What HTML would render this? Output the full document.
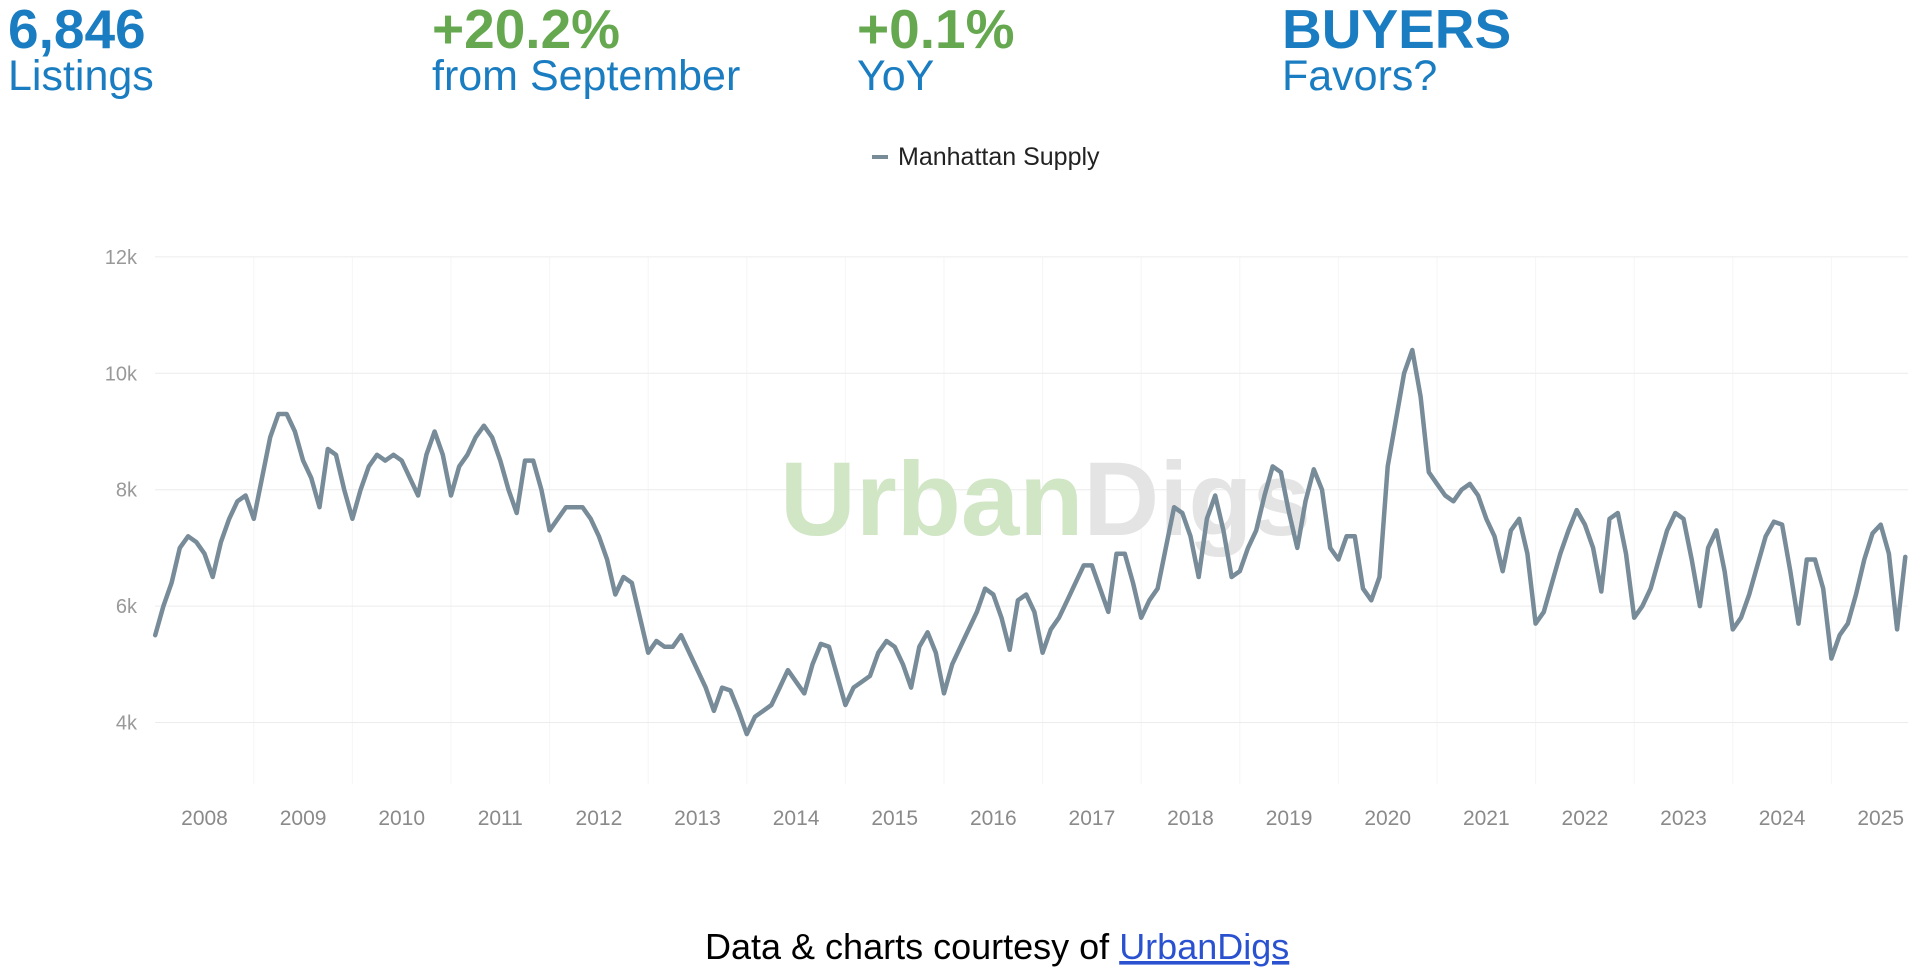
<!DOCTYPE html>
<html><head><meta charset="utf-8"><style>
html,body{margin:0;padding:0;background:#fff;width:1920px;height:979px;overflow:hidden;font-family:"Liberation Sans",sans-serif}
.kpi{position:absolute;top:0}
.num{font-weight:bold;font-size:55px;line-height:1;position:absolute;top:2px;white-space:nowrap}
.lab{font-size:43px;position:absolute;top:52px;white-space:nowrap;color:#1a7cc1}
</style></head><body>
<div class="kpi" style="left:8px"><div class="num" style="color:#1a7cc1">6,846</div><div class="lab">Listings</div></div>
<div class="kpi" style="left:432px"><div class="num" style="color:#66a84f">+20.2%</div><div class="lab">from September</div></div>
<div class="kpi" style="left:857px"><div class="num" style="color:#66a84f">+0.1%</div><div class="lab">YoY</div></div>
<div class="kpi" style="left:1282px"><div class="num" style="color:#1a7cc1">BUYERS</div><div class="lab">Favors?</div></div>
<svg id="chart" width="1920" height="979" style="position:absolute;left:0;top:0" xmlns="http://www.w3.org/2000/svg">
<g><line x1="872" y1="157" x2="888" y2="157" stroke="#778b99" stroke-width="4"/><text x="898" y="165" font-size="25" fill="#222">Manhattan Supply</text></g>
<g id="grid"></g>
<text x="780" y="535" font-size="105" font-weight="bold"><tspan fill="#d0e6c5">Urban</tspan><tspan fill="#e4e4e4">Digs</tspan></text>
<g id="axes"></g>
<g id="series"></g>
<text x="705" y="959" font-size="36" fill="#000">Data &amp; charts courtesy of <tspan fill="#2a52d0" text-decoration="underline">UrbanDigs</tspan></text>
</svg>
<script>
const startYear = 2008;
const yTicks = [4000, 6000, 8000, 10000, 12000];
const yTickLabels = ["4k", "6k", "8k", "10k", "12k"];
const xTickLabels = ["2008","2009","2010","2011","2012","2013","2014","2015","2016","2017","2018","2019","2020","2021","2022","2023","2024","2025"];
const supply2008 = [5.5,6.0,6.4,7.0,7.2,7.1,6.9,6.5,7.1,7.5,7.8,7.9];
const supply2009 = [7.5,8.2,8.9,9.3,9.3,9.0,8.5,8.2,7.7,8.7,8.6,8.0];
const supply2010 = [7.5,8.0,8.4,8.6,8.5,8.6,8.5,8.2,7.9,8.6,9.0,8.6];
const supply2011 = [7.9,8.4,8.6,8.9,9.1,8.9,8.5,8.0,7.6,8.5,8.5,8.0];
const supply2012 = [7.3,7.5,7.7,7.7,7.7,7.5,7.2,6.8,6.2,6.5,6.4,5.8];
const supply2013 = [5.2,5.4,5.3,5.3,5.5,5.2,4.9,4.6,4.2,4.6,4.55,4.2];
const supply2014 = [3.8,4.1,4.2,4.3,4.6,4.9,4.7,4.5,5.0,5.35,5.3,4.8];
const supply2015 = [4.3,4.6,4.7,4.8,5.2,5.4,5.3,5.0,4.6,5.3,5.55,5.2];
const supply2016 = [4.5,5.0,5.3,5.6,5.9,6.3,6.2,5.8,5.25,6.1,6.2,5.9];
const supply2017 = [5.2,5.6,5.8,6.1,6.4,6.7,6.7,6.3,5.9,6.9,6.9,6.4];
const supply2018 = [5.8,6.1,6.3,7.0,7.7,7.6,7.2,6.5,7.5,7.9,7.3,6.5];
const supply2019 = [6.6,7.0,7.3,7.9,8.4,8.3,7.6,7.0,7.8,8.35,8.0,7.0];
const supply2020 = [6.8,7.2,7.2,6.3,6.1,6.5,8.4,9.2,10.0,10.4,9.6,8.3];
const supply2021 = [8.1,7.9,7.8,8.0,8.1,7.9,7.5,7.2,6.6,7.3,7.5,6.9];
const supply2022 = [5.7,5.9,6.4,6.9,7.3,7.65,7.4,7.0,6.25,7.5,7.6,6.9];
const supply2023 = [5.8,6.0,6.3,6.8,7.3,7.6,7.5,6.8,6.0,7.0,7.3,6.6];
const supply2024 = [5.6,5.8,6.2,6.7,7.2,7.45,7.4,6.6,5.7,6.8,6.8,6.3];
const supply2025 = [5.1,5.5,5.7,6.2,6.8,7.25,7.4,6.9,5.6,6.846];

const yearsData = [supply2008,supply2009,supply2010,supply2011,supply2012,supply2013,supply2014,supply2015,supply2016,supply2017,supply2018,supply2019,supply2020,supply2021,supply2022,supply2023,supply2024,supply2025];
const NS = "http://www.w3.org/2000/svg";
const X0 = 204.5, XPY = 98.6, PL = 155, PR = 1908, PT = 257, PB = 784;
function xScale(t){ return X0 + (t - (startYear + 0.5)) * XPY; }
function yScale(v){ return 722.5 - (v - 4000) / 2000 * 116.4; }
function mk(tag, attrs){ const e = document.createElementNS(NS, tag); for (const k in attrs) e.setAttribute(k, attrs[k]); return e; }
const grid = document.getElementById('grid'), axes = document.getElementById('axes'), series = document.getElementById('series');
xTickLabels.forEach((lab, i) => {
  const xc = xScale(startYear + i + 0.5);
  const vl = mk('line', {x1: xc + XPY/2, x2: xc + XPY/2, y1: PT, y2: PB, stroke: '#f6f6f6', 'stroke-width': 1});
  
  
  grid.appendChild(vl);
  const t = mk('text', {x: xc, y: 825, 'font-size': 21, fill: '#8a8a8a', 'text-anchor': 'middle'});
  t.textContent = lab;
  
  
  axes.appendChild(t);
});
yTicks.forEach((v, i) => {
  const y = yScale(v);
  const gl = mk('line', {x1: PL, x2: PR, y1: y, y2: y, stroke: '#ececec', 'stroke-width': 1});
  
  
  grid.appendChild(gl);
  const t = mk('text', {x: 137, y: y + 7, 'font-size': 20, fill: '#999', 'text-anchor': 'end'});
  t.textContent = yTickLabels[i];
  
  
  axes.appendChild(t);
});
let pts = [];
yearsData.forEach((arr, yi) => {
  arr.forEach((v, m) => {
    pts.push(xScale(startYear + yi + m/12).toFixed(1) + ',' + yScale(v*1000).toFixed(1));
  });
});
const line = mk('polyline', {points: pts.join(' '), fill: 'none', stroke: '#778b99', 'stroke-width': 4.5, 'stroke-linejoin': 'round', 'stroke-linecap': 'round'});


series.appendChild(line);
</script>
</body></html>
